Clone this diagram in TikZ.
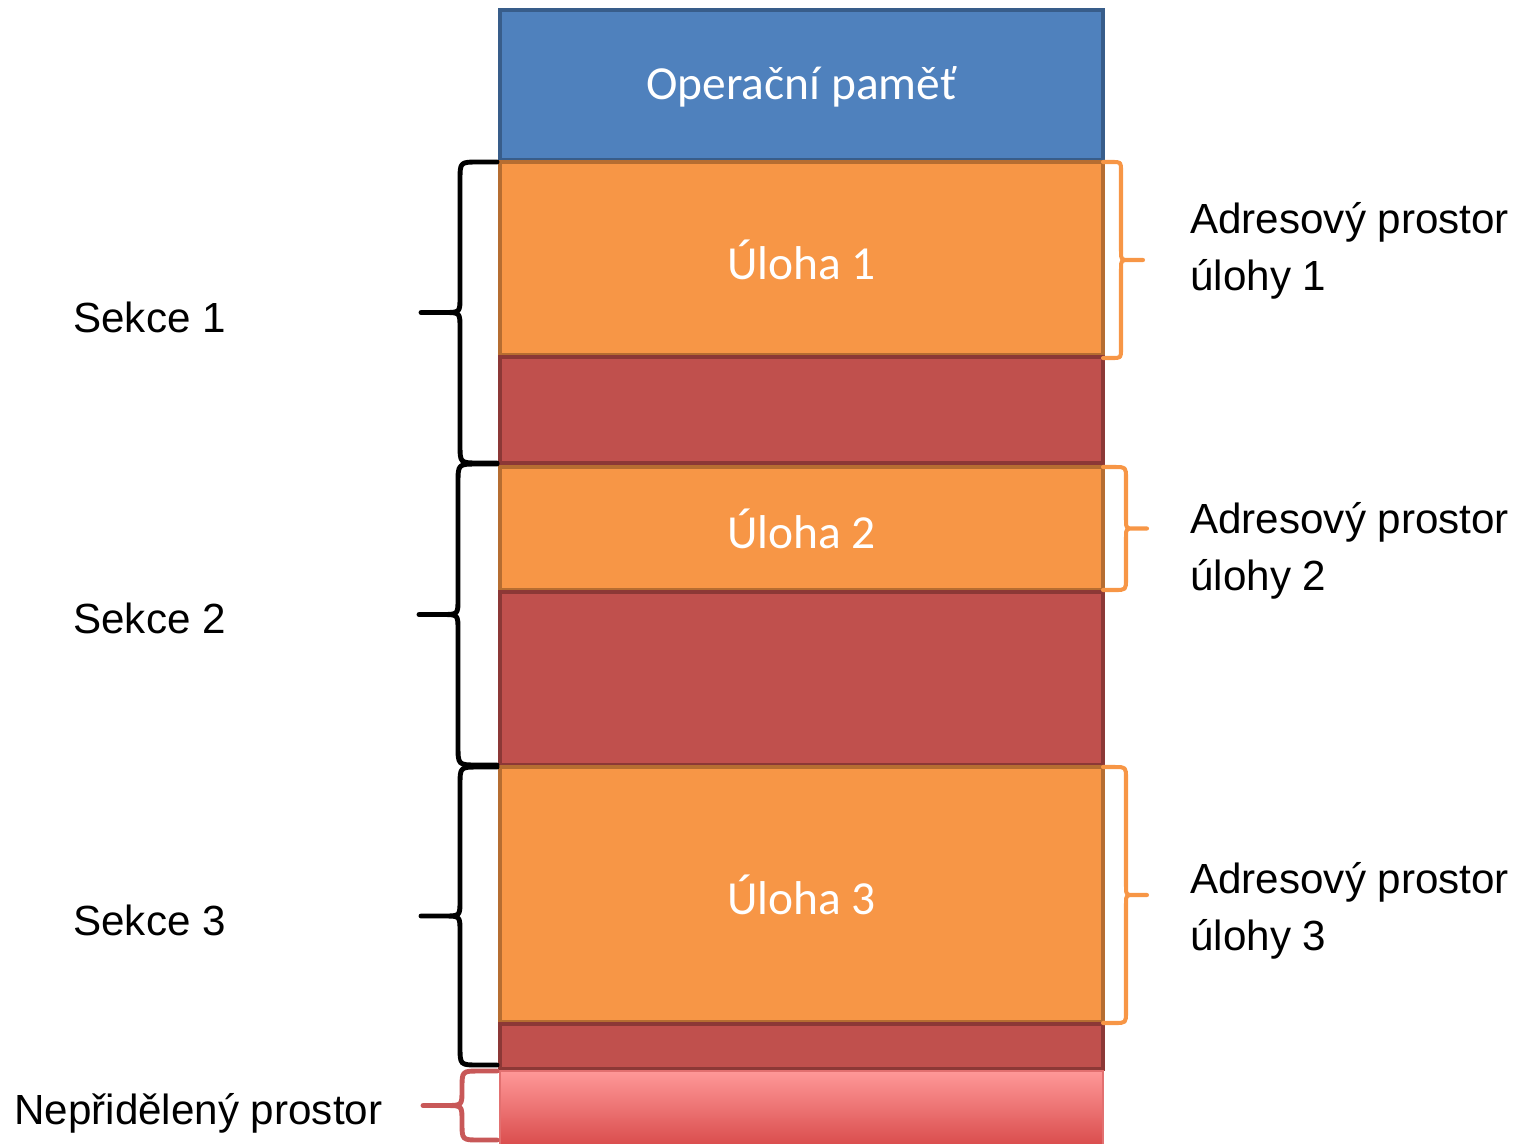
\documentclass[tikz,border=0pt]{standalone}
\usepackage{fontspec}
\setmainfont{Liberation Sans}
\newfontfamily\calibri{Carlito}
\usetikzlibrary{calc}

\definecolor{pametfill}{HTML}{4F81BD}
\definecolor{pametline}{HTML}{385D8A}
\definecolor{ulohafill}{HTML}{F79646}
\definecolor{ulohaline}{HTML}{B66D31}
\definecolor{sekcefill}{HTML}{C0504D}
\definecolor{sekceline}{HTML}{8C3836}
\definecolor{volnotop}{HTML}{FF9898}
\definecolor{volnobot}{HTML}{D23E3E}
\definecolor{volnoline}{HTML}{E27070}
\definecolor{volnobrace}{HTML}{C85858}

% brace: style, box edge x, line x, tip x, top y, bottom y
\newcommand{\zavorka}[6]{%
  \pgfmathsetmacro\zm{(#5+#6)/2}%
  \pgfmathsetmacro\za{#3+0.5*(#2-#3)}%
  \pgfmathsetmacro\zb{abs(0.5*(#2-#3))}%
  \pgfmathsetmacro\zc{#3+0.4*(#4-#3)}%
  \pgfmathsetmacro\zd{abs(0.4*(#4-#3))}%
  \draw[#1] (#2,#5) -- (\za,#5) .. controls (#3,#5) .. (#3,#5+\zb)
    -- (#3,\zm-\zd) .. controls (#3,\zm) .. (\zc,\zm) -- (#4,\zm)
    -- (\zc,\zm) .. controls (#3,\zm) .. (#3,\zm+\zd)
    -- (#3,#6-\zb) .. controls (#3,#6) .. (\za,#6) -- (#2,#6);}

\begin{document}
\begin{tikzpicture}[x=0.02cm,y=-0.02cm,
    blok/.style={line width=2.2pt},
    vtext/.style={text=white,font=\calibri\fontsize{27}{32}\selectfont},
    popis/.style={anchor=base west,inner sep=0pt,font=\fontsize{24}{32.4}\selectfont,align=left},
    cerna/.style={line width=2.8pt,black,line cap=round,line join=round},
    oranz/.style={line width=2.3pt,ulohafill,line cap=round,line join=round},
    cervena/.style={line width=2.8pt,volnobrace,line cap=round,line join=round}]
    \useasboundingbox (0,0) rectangle (1523,1143);
    \clip (0,0) rectangle (1523,1143);

    % pamet
    \draw[blok,draw=pametline,fill=pametfill] (500,10) rectangle (1103,160);
    \node[vtext] (pamet) at (801.5,87) {Operační paměť};

    % sekce 1
    \draw[blok,draw=ulohaline,fill=ulohafill] (500,162) rectangle (1103,355);
    \node[vtext] (uloha1) at (801.5,260) {Úloha 1};
    \draw[blok,draw=sekceline,fill=sekcefill] (500,357) rectangle (1103,463);

    % sekce 2
    \draw[blok,draw=ulohaline,fill=ulohafill] (500,467) rectangle (1103,590);
    \node[vtext] (uloha2) at (801.5,529) {Úloha 2};
    \draw[blok,draw=sekceline,fill=sekcefill] (500,592) rectangle (1103,765);

    % sekce 3
    \draw[blok,draw=ulohaline,fill=ulohafill] (500,767) rectangle (1103,1022);
    \node[vtext] (uloha3) at (801.5,895) {Úloha 3};
    \draw[blok,draw=sekceline,fill=sekcefill] (500,1024) rectangle (1103,1069);

    % neprideleno
    \draw[line width=1pt,draw=volnoline,top color=volnotop,bottom color=volnobot]
        (500,1071) rectangle (1103,1160);

    % leve zavorky
    \zavorka{cerna}{497}{460}{421}{162}{463}
    \zavorka{cerna}{497}{458}{419}{464}{765}
    \zavorka{cerna}{497}{460}{421}{767}{1065}
    \zavorka{cervena}{497}{462}{423}{1071}{1140}

    % prave zavorky
    \zavorka{oranz}{1103}{1121}{1143}{162}{358}
    \zavorka{oranz}{1103}{1126}{1147}{467}{590}
    \zavorka{oranz}{1103}{1126}{1147}{767}{1023}

    \node[popis] (sekce1) at (73,332) {Sekce 1};
    \node[popis] (sekce2) at (73,633) {Sekce 2};
    \node[popis] (sekce3) at (73,935) {Sekce 3};
    \node[popis] (volno) at (14,1124) {Nepřidělený prostor};

    \node[popis] (adr1) at (1190,290) {Adresový prostor\\úlohy 1};
    \node[popis] (adr2) at (1190,590) {Adresový prostor\\úlohy 2};
    \node[popis] (adr3) at (1190,950) {Adresový prostor\\úlohy 3};
\end{tikzpicture}
\end{document}
